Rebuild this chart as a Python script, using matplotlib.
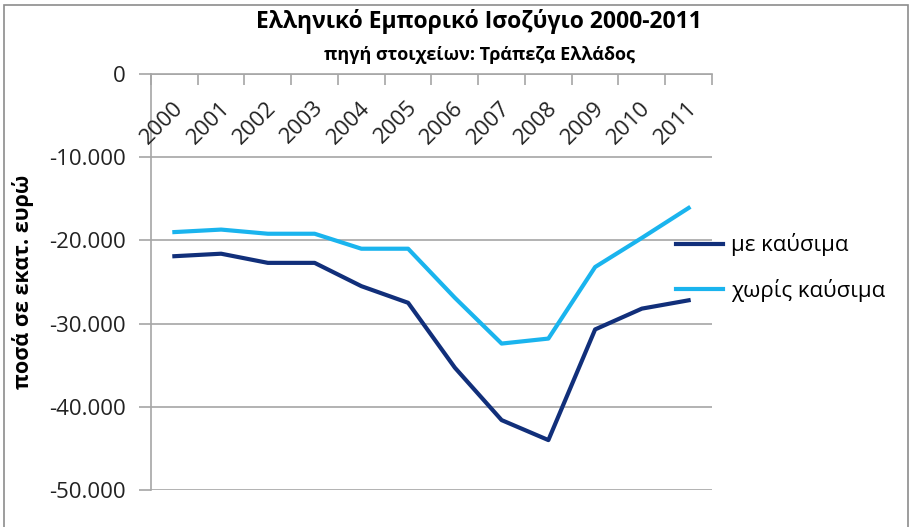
import matplotlib
matplotlib.use("Agg")
import matplotlib.pyplot as plt
from matplotlib.patches import Rectangle
from matplotlib.ticker import FuncFormatter, NullFormatter

plt.rcParams['font.family'] = ['Open Sans', 'DejaVu Sans']

years = ['2000', '2001', '2002', '2003', '2004', '2005', '2006', '2007', '2008', '2009', '2010', '2011']
with_fuel = [-21900, -21600, -22700, -22700, -25500, -27500, -35300, -41600, -44000, -30700, -28200, -27200]
without_fuel = [-19000, -18700, -19200, -19200, -21000, -21000, -26900, -32400, -31800, -23200, -19700, -16100]
series_names = ['με καύσιμα', 'χωρίς καύσιμα']
colors = ['#112f7a', '#1ab4ee']
title = 'Ελληνικό Εμπορικό Ισοζύγιο 2000-2011'
subtitle = 'πηγή στοιχείων: Τράπεζα Ελλάδος'
ylabel = 'ποσά σε εκατ. ευρώ'

fig = plt.figure(figsize=(9.12, 5.27), dpi=100)
ax = fig.add_axes([151/912, 1-490/527, (712-151)/912, (490-74)/527])

x = list(range(len(years)))
ax.plot(x, with_fuel, color=colors[0], lw=3, label=series_names[0], solid_joinstyle='round')
ax.plot(x, without_fuel, color=colors[1], lw=3, label=series_names[1], solid_joinstyle='round')

ax.set_xlim(-0.5, len(years) - 0.5)
ax.set_ylim(-50000, 0)
ax.set_yticks(range(-50000, 1, 10000))
ax.yaxis.set_major_formatter(FuncFormatter(lambda v, p: f"{int(v):,}".replace(',', '.')))
ax.grid(axis='y', color='#a6a6a6', lw=1.2)
ax.set_axisbelow(True)
for s in ['right', 'bottom']:
    ax.spines[s].set_visible(False)
ax.spines['left'].set_color('#a6a6a6')
ax.spines['top'].set_color('#a6a6a6')
ax.spines['left'].set_linewidth(1.2)
ax.spines['top'].set_linewidth(1.2)
ax.tick_params(axis='y', length=9, width=1.2, color='#a6a6a6', labelsize=16, pad=9, labelcolor='#222222')

# x axis at top (value 0), ticks between categories pointing down
ax.xaxis.tick_top()
ax.set_xticks([i - 0.5 for i in range(len(years) + 1)])
ax.xaxis.set_major_formatter(NullFormatter())
ax.tick_params(axis='x', direction='in', length=8, width=1.2, color='#a6a6a6')
for i, yr in enumerate(years):
    ax.annotate(yr, xy=(i, 0), xycoords='data', xytext=(4, -22), textcoords='offset points',
                rotation=45, ha='right', va='center', rotation_mode='anchor', fontsize=16, color='#222222')

ax.set_ylabel(ylabel, fontsize=15.5, fontweight='bold')
ax.yaxis.set_label_coords(-0.208, 0.5)

fig.text(479/912, 1-22/527, title, ha='center', va='center', fontsize=16.5, fontweight='bold')
fig.text(479/912, 1-55/527, subtitle, ha='center', va='center', fontsize=13, fontweight='bold')

leg = ax.legend(loc='center left', bbox_to_anchor=(0.9, 0.535), frameon=False, fontsize=16,
                handlelength=2.1, labelspacing=1.0, handletextpad=0.4)

fig.patches.append(Rectangle((4/912, -0.05), 904/912, 1.05 - 5/527, transform=fig.transFigure,
                             fill=False, edgecolor='#8c8c8c', lw=1.2))

fig.savefig('out.png', dpi=100)
